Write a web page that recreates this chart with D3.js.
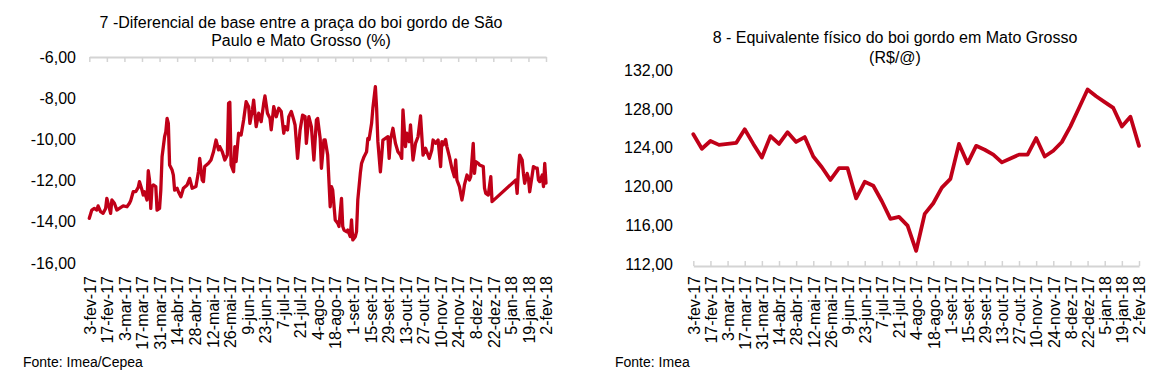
<!DOCTYPE html>
<html>
<head>
<meta charset="utf-8">
<script src="https://cdn.jsdelivr.net/npm/d3@7"></script>
<style>
  body { margin: 0; background: #fff; }
  text { font-family: "Liberation Sans", Arial, Helvetica, sans-serif; fill: #000; }
</style>
</head>
<body>
<script>
const width = 1169
const height = 390
const lineColor = "#c00018"

// eixo x (comum aos dois gráficos)
const tickLabels = ["3-fev-17", "17-fev-17", "3-mar-17", "17-mar-17", "31-mar-17", "14-abr-17",
  "28-abr-17", "12-mai-17", "26-mai-17", "9-jun-17", "23-jun-17", "7-jul-17", "21-jul-17",
  "4-ago-17", "18-ago-17", "1-set-17", "15-set-17", "29-set-17", "13-out-17", "27-out-17",
  "10-nov-17", "24-nov-17", "8-dez-17", "22-dez-17", "5-jan-18", "19-jan-18", "2-fev-18"]

// 7 - diferencial de base SP x MT (%)
const baseDates = ["2017-02-03", "2017-02-05", "2017-02-07", "2017-02-09", "2017-02-10", "2017-02-12",
  "2017-02-14", "2017-02-16", "2017-02-17", "2017-02-19", "2017-02-20", "2017-02-21", "2017-02-23",
  "2017-02-25", "2017-02-27", "2017-03-02", "2017-03-05", "2017-03-07", "2017-03-08", "2017-03-10",
  "2017-03-12", "2017-03-14", "2017-03-15", "2017-03-17", "2017-03-18", "2017-03-19", "2017-03-21",
  "2017-03-22", "2017-03-23", "2017-03-24", "2017-03-25", "2017-03-26", "2017-03-28", "2017-03-29",
  "2017-03-31", "2017-04-01", "2017-04-02", "2017-04-04", "2017-04-05", "2017-04-06", "2017-04-07",
  "2017-04-08", "2017-04-10", "2017-04-11", "2017-04-12", "2017-04-14", "2017-04-15", "2017-04-17",
  "2017-04-19", "2017-04-22", "2017-04-24", "2017-04-26", "2017-04-29", "2017-05-01", "2017-05-02",
  "2017-05-04", "2017-05-05", "2017-05-06", "2017-05-09", "2017-05-11", "2017-05-13", "2017-05-15",
  "2017-05-17", "2017-05-18", "2017-05-20", "2017-05-22", "2017-05-24", "2017-05-25", "2017-05-26",
  "2017-05-27", "2017-05-29", "2017-05-30", "2017-05-31", "2017-06-02", "2017-06-04", "2017-06-06",
  "2017-06-08", "2017-06-10", "2017-06-11", "2017-06-13", "2017-06-14", "2017-06-16", "2017-06-18",
  "2017-06-20", "2017-06-22", "2017-06-23", "2017-06-25", "2017-06-27", "2017-06-28", "2017-06-30",
  "2017-07-02", "2017-07-04", "2017-07-06", "2017-07-08", "2017-07-09", "2017-07-11", "2017-07-12",
  "2017-07-14", "2017-07-16", "2017-07-17", "2017-07-19", "2017-07-21", "2017-07-23", "2017-07-25",
  "2017-07-26", "2017-07-28", "2017-07-30", "2017-08-01", "2017-08-03", "2017-08-04", "2017-08-06",
  "2017-08-07", "2017-08-09", "2017-08-10", "2017-08-12", "2017-08-14", "2017-08-15", "2017-08-16",
  "2017-08-18", "2017-08-20", "2017-08-21", "2017-08-23", "2017-08-24", "2017-08-25", "2017-08-27",
  "2017-08-28", "2017-08-30", "2017-08-31", "2017-09-01", "2017-09-03", "2017-09-04", "2017-09-05",
  "2017-09-07", "2017-09-08", "2017-09-10", "2017-09-12", "2017-09-13", "2017-09-14", "2017-09-16",
  "2017-09-17", "2017-09-19", "2017-09-20", "2017-09-21", "2017-09-23", "2017-09-24", "2017-09-25",
  "2017-09-27", "2017-09-29", "2017-09-30", "2017-10-01", "2017-10-03", "2017-10-05", "2017-10-07",
  "2017-10-09", "2017-10-10", "2017-10-11", "2017-10-13", "2017-10-14", "2017-10-16", "2017-10-17",
  "2017-10-19", "2017-10-21", "2017-10-23", "2017-10-25", "2017-10-27", "2017-10-29", "2017-10-30",
  "2017-11-01", "2017-11-03", "2017-11-04", "2017-11-06", "2017-11-08", "2017-11-10", "2017-11-11",
  "2017-11-12", "2017-11-14", "2017-11-15", "2017-11-17", "2017-11-19", "2017-11-21", "2017-11-22",
  "2017-11-23", "2017-11-25", "2017-11-27", "2017-11-28", "2017-11-29", "2017-12-01", "2017-12-03",
  "2017-12-04", "2017-12-06", "2017-12-07", "2017-12-08", "2017-12-10", "2017-12-11", "2017-12-14",
  "2017-12-15", "2017-12-16", "2017-12-18", "2017-12-20", "2017-12-21", "2018-01-09", "2018-01-10",
  "2018-01-11", "2018-01-12", "2018-01-14", "2018-01-15", "2018-01-16", "2018-01-18", "2018-01-19",
  "2018-01-20", "2018-01-22", "2018-01-23", "2018-01-25", "2018-01-26", "2018-01-27", "2018-01-28",
  "2018-01-30", "2018-01-31", "2018-02-01", "2018-02-02"]
const baseValues = [-13.83, -13.43, -13.35, -13.43, -13.23, -13.51,
  -13.59, -13.35, -12.86, -13.35, -13.59, -12.94, -13.1,
  -13.43, -13.35, -13.23, -13.27, -13.1, -12.97, -12.54,
  -12.54, -12.33, -12.05, -12.46, -12.7, -12.54, -12.94,
  -11.52, -11.97, -13.35, -12.29, -12.21, -12.29, -13.43,
  -13.35, -12.46, -10.84, -9.87, -9.63, -8.98, -9.22,
  -11.24, -11.49, -11.73, -12.46, -12.37, -12.54, -12.78,
  -12.37, -12.21, -11.89, -12.37, -12.29, -11.57, -10.92,
  -11.97, -12.05, -11.32, -11.16, -11.0, -10.6, -10.03,
  -10.51, -10.35, -10.6, -11.0, -10.76, -8.25, -8.2,
  -11.24, -11.57, -10.35, -11.08, -9.7, -9.79, -9.06,
  -8.17, -8.41, -9.22, -8.57, -8.09, -9.38, -8.73,
  -9.14, -8.25, -7.89, -8.73, -8.98, -9.54, -8.41,
  -8.9, -8.49, -8.65, -9.7, -9.38, -9.54, -8.9,
  -8.65, -9.06, -9.3, -10.92, -9.54, -8.82, -8.9,
  -10.19, -8.9, -9.38, -11.0, -9.06, -8.98, -9.95,
  -11.4, -10.03, -10.03, -10.76, -13.27, -12.29, -12.46,
  -13.91, -14.07, -14.23, -12.86, -14.23, -14.4, -14.48,
  -14.4, -14.72, -13.91, -14.88, -14.72, -14.48, -12.94,
  -11.65, -11.16, -10.84, -10.6, -9.95, -10.0, -9.22,
  -8.49, -7.44, -8.49, -10.11, -11.57, -10.84, -10.03,
  -9.95, -9.87, -10.92, -10.03, -9.46, -10.19, -10.6,
  -10.76, -10.92, -8.57, -10.35, -9.7, -10.11, -9.3,
  -11.0, -10.19, -9.87, -8.86, -10.76, -10.43, -10.6,
  -10.92, -10.51, -10.03, -10.19, -10.03, -11.32, -10.11,
  -10.27, -10.0, -10.35, -10.84, -11.4, -11.81, -11.0,
  -11.97, -12.29, -12.94, -12.62, -12.21, -11.73, -11.97,
  -11.81, -10.19, -11.65, -11.08, -11.16, -11.24, -11.32,
  -12.37, -12.62, -12.7, -11.81, -13.02, -11.97, -12.62,
  -11.49, -10.76, -11.0, -11.65, -12.13, -11.65, -11.89,
  -12.54, -11.73, -11.32, -11.4, -11.4, -11.97, -12.05,
  -11.73, -12.29, -11.16, -12.12]
const baseTicks = [-16, -14, -12, -10, -8, -6]

// 8 - equivalente físico do boi gordo em MT (R$/@), semanal
const boiDates = ["2017-02-03", "2017-02-10", "2017-02-17", "2017-02-24", "2017-03-03", "2017-03-10",
  "2017-03-17", "2017-03-24", "2017-03-31", "2017-04-07", "2017-04-14", "2017-04-21", "2017-04-28",
  "2017-05-05", "2017-05-12", "2017-05-19", "2017-05-26", "2017-06-02", "2017-06-09", "2017-06-16",
  "2017-06-23", "2017-06-30", "2017-07-07", "2017-07-14", "2017-07-21", "2017-07-28", "2017-08-04",
  "2017-08-11", "2017-08-18", "2017-08-25", "2017-09-01", "2017-09-08", "2017-09-15", "2017-09-22",
  "2017-09-29", "2017-10-06", "2017-10-13", "2017-10-20", "2017-10-27", "2017-11-03", "2017-11-10",
  "2017-11-17", "2017-11-24", "2017-12-01", "2017-12-08", "2017-12-15", "2017-12-22", "2017-12-29",
  "2018-01-05", "2018-01-12", "2018-01-19", "2018-01-26", "2018-02-02"]
const boiValues = [125.4, 123.9, 124.7, 124.3, 124.4, 124.5,
  125.9, 124.4, 123.0, 125.2, 124.4, 125.6, 124.6,
  125.1, 123.1, 122.0, 120.7, 121.9, 121.9, 118.8,
  120.5, 120.1, 118.5, 116.7, 116.9, 116.0, 113.4,
  117.2, 118.3, 119.9, 120.8, 124.4, 122.4, 124.2,
  123.8, 123.3, 122.5, 122.9, 123.3, 123.3, 125.0,
  123.1, 123.7, 124.6, 126.2, 128.1, 130.0, 129.3,
  128.7, 128.1, 126.2, 127.2, 124.2]
const boiTicks = [112, 116, 120, 124, 128, 132]

const parseIso = d3.timeParse("%Y-%m-%d")
const monthIdx = {jan: 0, fev: 1, mar: 2, abr: 3, mai: 4, jun: 5, jul: 6, ago: 7, set: 8, out: 9, nov: 10, dez: 11}
const parseLabel = s => {
  const [d, m, y] = s.split("-")
  return new Date(2000 + +y, monthIdx[m], +d)
}
const tickDates = tickLabels.map(parseLabel)

const ptBR = d3.formatLocale({decimal: ",", thousands: ".", grouping: [3], currency: ["R$", ""], minus: "-"})
const fmt = ptBR.format(".2f")

const svg = d3.select("body").append("svg")
    .attr("width", width)
    .attr("height", height)
    .attr("viewBox", [0, 0, width, height])

function drawChart(o) {
  const x = d3.scaleTime()
      .domain([tickDates[0], tickDates[tickDates.length - 1]])
      .range([o.left, o.right])
  const y = d3.scaleLinear()
      .domain(o.domain)
      .range([o.bottom, o.top])

  const data = o.dates.map((d, i) => ({date: parseIso(d), value: o.values[i]}))

  // eixo de categorias (linha cinza com marcas)
  const gx = svg.append("g")
      .attr("transform", `translate(0,${o.axisY})`)
      .call(d3.axisBottom(x).tickValues(tickDates).tickSize(o.tickLen).tickSizeOuter(0)
          .tickFormat((d, i) => tickLabels[i]))
  gx.select(".domain").attr("stroke", "#d4d4d4").attr("stroke-width", 2)
  gx.selectAll(".tick line").attr("stroke", "#d4d4d4").attr("stroke-width", 1.5)
  gx.selectAll(".tick text")
      .attr("font-size", 16)
      .attr("text-anchor", "end")
      .attr("transform", `translate(0,${o.labelY - o.axisY}) rotate(-90)`)
      .attr("x", 0).attr("y", 0).attr("dy", "0.36em")

  const gy = svg.append("g")
      .attr("transform", `translate(${o.yLabelX},0)`)
      .call(d3.axisLeft(y).tickValues(o.yTicks).tickSize(0).tickPadding(0).tickFormat(fmt))
  gy.select(".domain").remove()
  gy.selectAll("text").attr("font-size", 16).attr("font-family", null)

  const line = d3.line()
      .x(d => x(d.date))
      .y(d => y(d.value))

  svg.append("path")
      .datum(data)
      .attr("fill", "none")
      .attr("stroke", lineColor)
      .attr("stroke-width", o.lineWidth)
      .attr("stroke-linejoin", "round")
      .attr("stroke-linecap", "round")
      .attr("d", line)

  svg.append("text")
      .attr("x", o.titleX)
      .attr("y", o.titleY)
      .attr("text-anchor", "middle")
      .attr("font-size", 16)
    .selectAll("tspan")
    .data(o.title)
    .join("tspan")
      .attr("x", o.titleX)
      .attr("dy", (d, i) => i ? o.titleGap : 0)
      .text(d => d)

  svg.append("text")
      .attr("x", o.sourceX)
      .attr("y", 367)
      .attr("font-size", 14)
      .text(o.source)
}

drawChart({
  dates: baseDates, values: baseValues, domain: [-16, -6], yTicks: baseTicks,
  left: 89.3, right: 546, top: 57, bottom: 263, axisY: 57, tickLen: 5,
  labelY: 276, yLabelX: 76, lineWidth: 3.3,
  title: ["7 -Diferencial de base entre a praça do boi gordo de São", "Paulo e Mato Grosso (%)"],
  titleX: 301, titleY: 28, titleGap: 18,
  source: "Fonte: Imea/Cepea", sourceX: 23
})

drawChart({
  dates: boiDates, values: boiValues, domain: [112, 132], yTicks: boiTicks,
  left: 693.3, right: 1139, top: 70, bottom: 264.5, axisY: 266, tickLen: -5,
  labelY: 276, yLabelX: 673, lineWidth: 3.8,
  title: ["8 - Equivalente físico do boi gordo em Mato Grosso", "(R$/@)"],
  titleX: 895, titleY: 43, titleGap: 20,
  source: "Fonte: Imea", sourceX: 615
})
</script>
</body>
</html>
